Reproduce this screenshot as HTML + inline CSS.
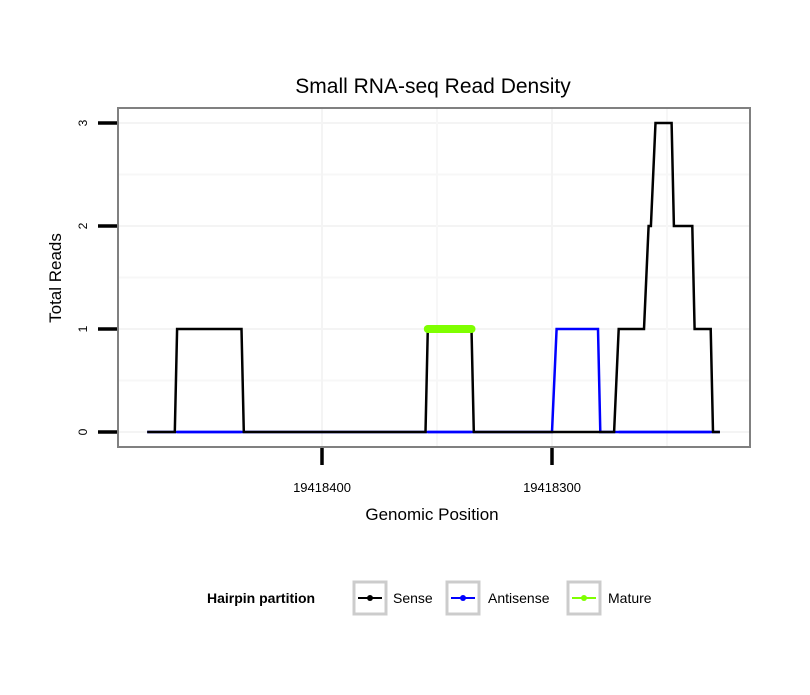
<!DOCTYPE html>
<html><head><meta charset="utf-8"><style>
body{margin:0;background:#fff}
svg text{font-family:"Liberation Sans",Arial,sans-serif}
</style></head><body>
<svg width="810" height="690" xmlns="http://www.w3.org/2000/svg">
<rect width="810" height="690" fill="#fff"/>
<text x="433" y="93" font-size="21" text-anchor="middle">Small RNA-seq Read Density</text>
<g id="grid"></g>
<g id="series"></g>
<rect x="118" y="108" width="632" height="339" fill="none" stroke="#808080" stroke-width="2"/>
<g id="axes"></g>
<text x="432" y="520" font-size="17" text-anchor="middle">Genomic Position</text>
<text transform="translate(61,278) rotate(-90)" font-size="17" text-anchor="middle">Total Reads</text>
<g>
<text x="207" y="603" font-size="14" font-weight="bold">Hairpin partition</text>
<g>
<rect x="354" y="582" width="32" height="32" fill="#fff" stroke="#ccc" stroke-width="3"/>
<line x1="358" y1="598" x2="382" y2="598" stroke="#000" stroke-width="2"/><circle cx="370" cy="598" r="3" fill="#000"/>
<text x="393" y="603" font-size="14">Sense</text></g>
<g>
<rect x="447" y="582" width="32" height="32" fill="#fff" stroke="#ccc" stroke-width="3"/>
<line x1="451" y1="598" x2="475" y2="598" stroke="#00f" stroke-width="2"/><circle cx="463" cy="598" r="3" fill="#00f"/>
<text x="488" y="603" font-size="14">Antisense</text></g>
<g>
<rect x="568" y="582" width="32" height="32" fill="#fff" stroke="#ccc" stroke-width="3"/>
<line x1="572" y1="598" x2="596" y2="598" stroke="#7fff00" stroke-width="2"/><circle cx="584" cy="598" r="3" fill="#7fff00"/>
<text x="608" y="603" font-size="14">Mature</text></g>
</g>
</svg>
<script>
const BASE = 19418000;
const senseX = [476,464,463,435,434,355,354,335,334,273,271,260,258,257,255,248,247,239,238,231,230,227];
const senseY = [0,0,1,1,0,0,1,1,0,0,1,1,2,2,3,3,2,2,1,1,0,0];
const antiX = [476,300,298,280,279,227];
const antiY = [0,0,1,1,0,0];
const matureX = [354,335];
const matureY = [1,1];
const xTicks = [19418400,19418300];
const xTickLabels = ["19418400","19418300"];
const yTicks = [0,1,2,3];
const yTickLabels = ["0","1","2","3"];

const NS="http://www.w3.org/2000/svg";
function sx(p){return 322+(19418400-p)*2.3;}
function sy(v){return 432-v*103;}
function mk(tag,attrs,parent){const e=document.createElementNS(NS,tag);for(const k in attrs)e.setAttribute(k,attrs[k]);parent.appendChild(e);return e;}
const grid=document.getElementById('grid'),series=document.getElementById('series'),axes=document.getElementById('axes');
// gridlines
for(let i=0;i<yTicks.length;i++){
  const l=mk('line',{x1:119,x2:749,y1:sy(yTicks[i]),y2:sy(yTicks[i]),stroke:'#f4f4f4','stroke-width':2},grid);
  
  
  if(i<yTicks.length-1){const m=mk('line',{x1:119,x2:749,y1:sy(yTicks[i]+0.5),y2:sy(yTicks[i]+0.5),stroke:'#f7f7f7','stroke-width':2},grid);
  
  }
}
for(const t of xTicks){
  const l=mk('line',{x1:sx(t),x2:sx(t),y1:109,y2:446,stroke:'#f4f4f4','stroke-width':2},grid);
  
  
  const m=mk('line',{x1:sx(t-50),x2:sx(t-50),y1:109,y2:446,stroke:'#f7f7f7','stroke-width':2},grid);
  
  
}
function pts(xs,ys){return xs.map((x,i)=>sx(BASE+x)+','+sy(ys[i])).join(' ');}
const a=mk('polyline',{points:pts(antiX,antiY),fill:'none',stroke:'#00f','stroke-width':2.5},series);


const s=mk('polyline',{points:pts(senseX,senseY),fill:'none',stroke:'#000','stroke-width':2.5},series);


// blue visible under sense where sense>0 at baseline
const a2=mk('polyline',{points:pts(antiX,antiY),fill:'none',stroke:'#00f','stroke-width':2.5,'clip-path':'url(#none)'},series);


a2.remove();
const m=mk('polyline',{points:pts(matureX,matureY),fill:'none',stroke:'#7fff00','stroke-width':8,'stroke-linecap':'round'},series);


// blue baseline segments where sense is raised
for(let i=0;i<senseX.length-1;i++){
  if(senseY[i]>0&&senseY[i+1]>0){
    const b=mk('line',{x1:sx(BASE+senseX[i]),x2:sx(BASE+senseX[i+1]),y1:sy(0),y2:sy(0),stroke:'#00f','stroke-width':2.5},series);
    
    
  }
}
// axes ticks
yTicks.forEach((t,i)=>{
  const l=mk('line',{x1:98,x2:117,y1:sy(t),y2:sy(t),stroke:'#000','stroke-width':3.5},axes);
  
  
  const tx=mk('text',{transform:`translate(87,${sy(t)}) rotate(-90)`,'font-size':12,'text-anchor':'middle'},axes);
  tx.textContent=yTickLabels[i];
  
  
});
xTicks.forEach((t,i)=>{
  const l=mk('line',{x1:sx(t),x2:sx(t),y1:448,y2:465,stroke:'#000','stroke-width':3.5},axes);
  
  
  const tx=mk('text',{x:sx(t),y:492,'font-size':13,'text-anchor':'middle'},axes);
  tx.textContent=xTickLabels[i];
  
  
});
</script>
</body></html>
